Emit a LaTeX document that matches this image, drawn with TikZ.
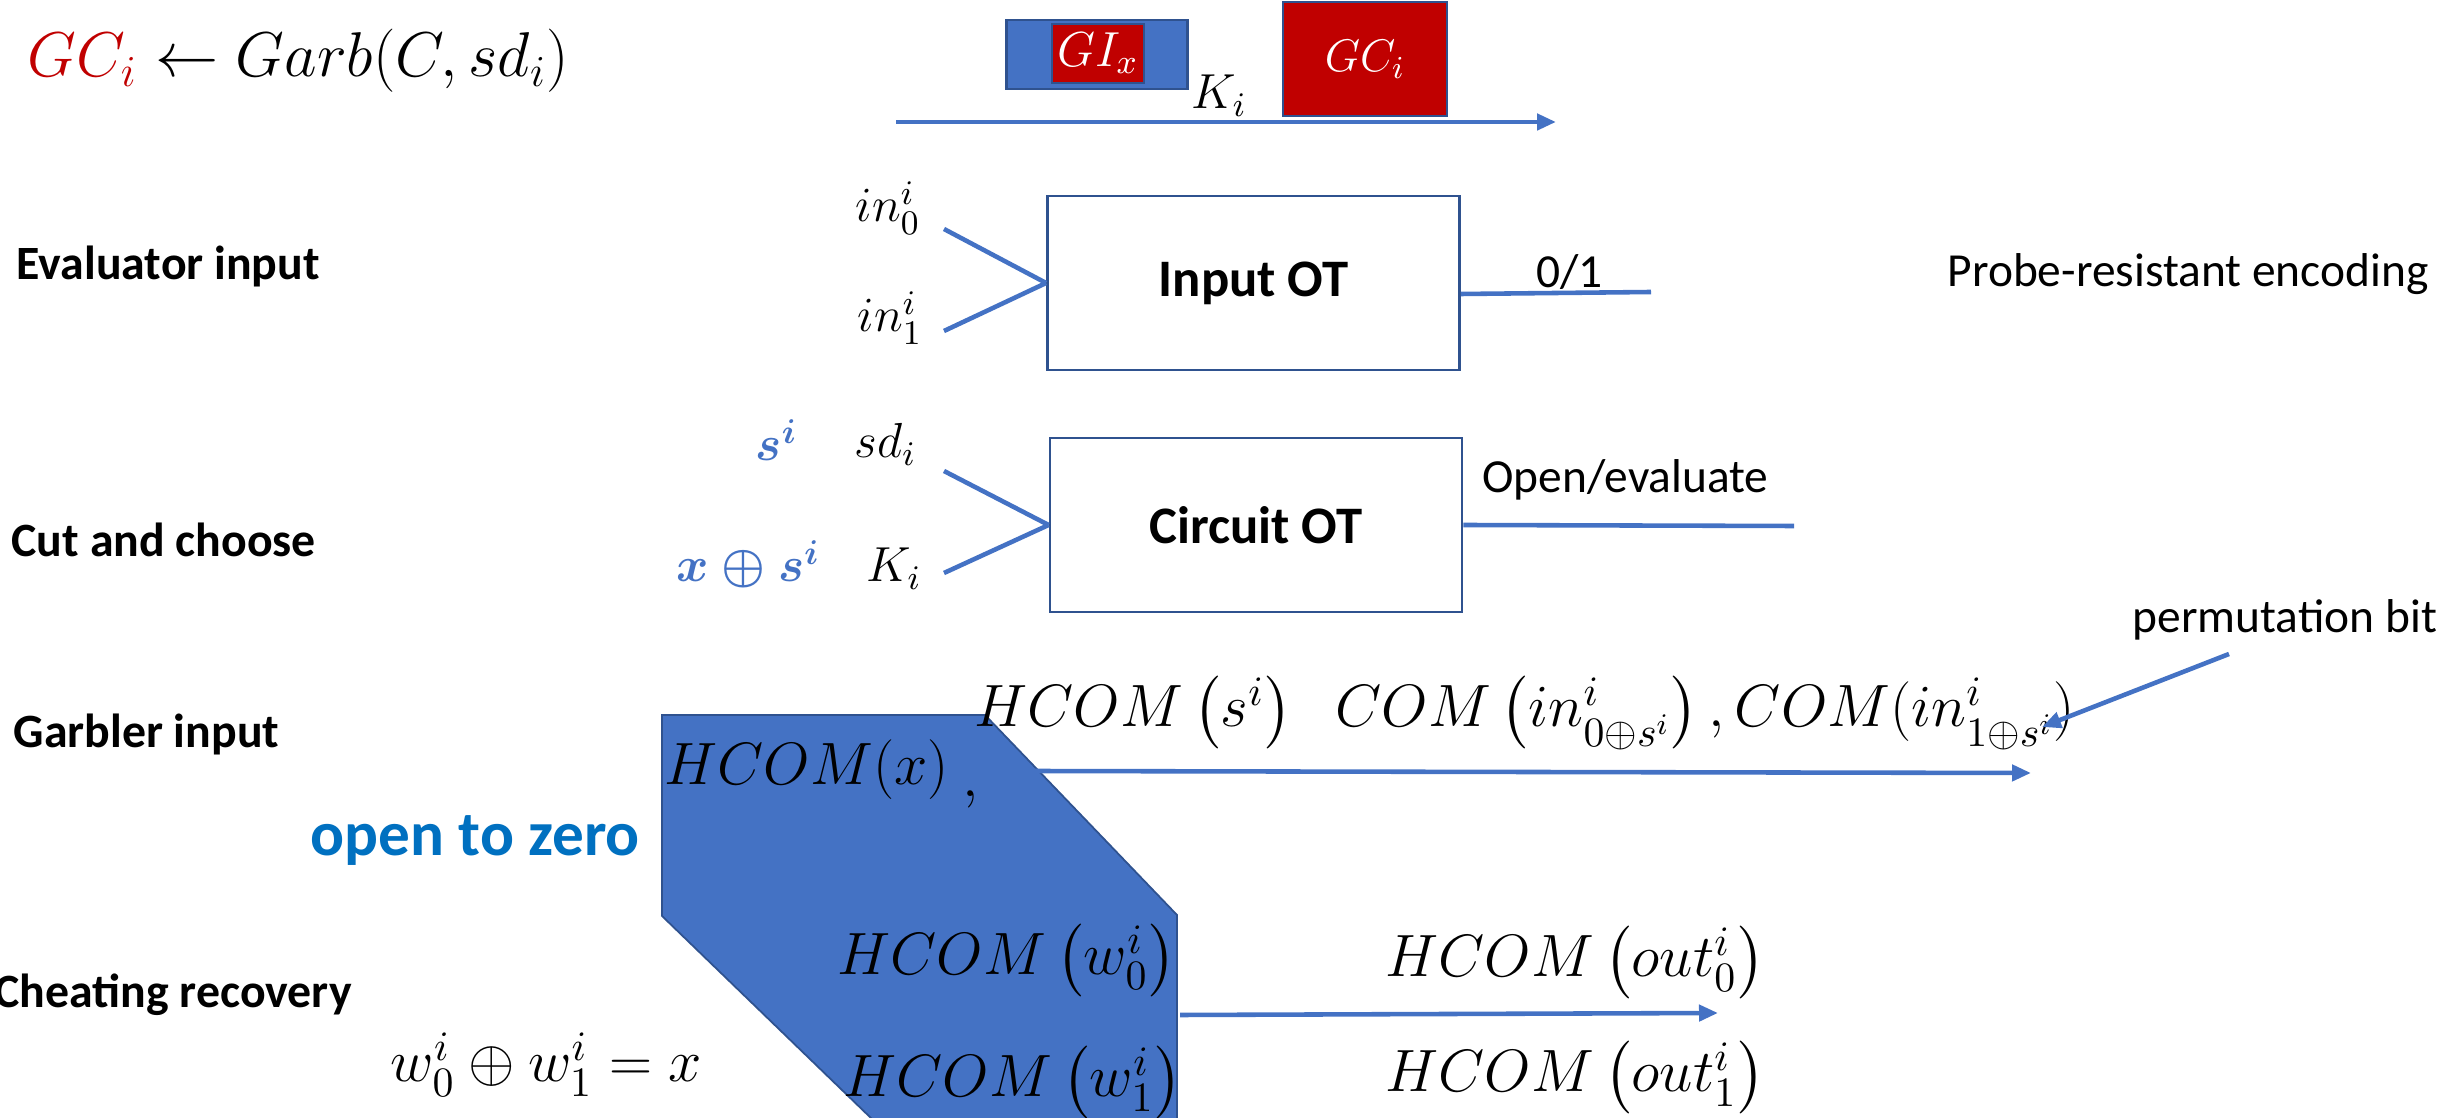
\RequirePackage{fix-cm}
\documentclass[tikz,border=0pt]{standalone}
\usepackage{amsmath}
\usepackage{fontspec}
\setmainfont{Carlito}
\usetikzlibrary{positioning,arrows.meta}

\definecolor{wireblue}{HTML}{4472C4}
\definecolor{edgeblue}{HTML}{2F528F}
\definecolor{gcred}{HTML}{C00000}
\definecolor{zeroblue}{HTML}{0070C0}

\begin{document}
\begin{tikzpicture}[
    every node/.style={inner sep=0pt},
    rowlabel/.style={anchor=base west, font=\fontsize{13.6}{16}\selectfont\bfseries},
    notelabel/.style={anchor=base west, font=\fontsize{13.5}{16}\selectfont},
    otbox/.style={draw=edgeblue, line width=0.8pt, minimum width=4.12cm, minimum height=1.74cm,
        font=\fontsize{15}{18}\selectfont\bfseries},
    wire/.style={draw=wireblue, line width=1.3pt},
    arr/.style={wire, -{Triangle[length=0.19cm,width=0.16cm]}},
    mathsmall/.style={anchor=base west, font=\fontsize{14}{17}\selectfont},
    mathbig/.style={anchor=base west, font=\fontsize{17}{20}\selectfont},
    redbox/.style={fill=gcred, draw=edgeblue, line width=0.6pt, text=white},
]
    \useasboundingbox (0,0) rectangle (24.64,-11.18);

    % Row labels
    \node[rowlabel] (evl) at (0.16,-2.80) {Evaluator input};
    \node[rowlabel] (cac) at (0.11,-5.57) {Cut and choose};
    \node[rowlabel] (gbl) at (0.13,-7.48) {Garbler input};
    \node[rowlabel] (chr) at (-0.06,-10.08) {Cheating recovery};

    % Garbling
    \node[anchor=base west, font=\fontsize{18}{22}\selectfont] (garb) at (0.27,-0.77)
        {$\textcolor{gcred}{GC_i} \leftarrow Garb(C,sd_i)$};
    \node[fill=wireblue, draw=edgeblue, line width=0.6pt, minimum width=1.81cm, minimum height=0.69cm] (gibox) at (10.97,-0.545) {};
    \node[redbox, minimum width=0.92cm, minimum height=0.59cm, font=\fontsize{14}{17}\selectfont] (gix) at (10.98,-0.535) {$GI_x$};
    \node[redbox, minimum width=1.64cm, minimum height=1.14cm, font=\fontsize{13}{16}\selectfont] (gcbox) at (13.65,-0.59) {$GC_i$};
    \coordinate (sendL) at (8.96,-1.22);
    \coordinate (sendR) at (15.56,-1.22);
    \draw[arr] (sendL) -- node[pos=0.49, anchor=base, yshift=0.13cm, font=\fontsize{14}{17}\selectfont] {$K_i$} (sendR);

    % Input OT
    \node[otbox] (iot) at (12.535,-2.83) {Input OT};
    \coordinate (in0) at (9.44,-2.29);
    \coordinate (in1) at (9.44,-3.31);
    \node[mathsmall] (in0lbl) at (8.55,-2.22) {$in_0^i$};
    \node[mathsmall] (in1lbl) at (8.57,-3.32) {$in_1^i$};
    \draw[wire] (in0) -- (iot.west);
    \draw[wire] (in1) -- (iot.west);
    \coordinate (bitend) at (16.51,-2.92);
    \draw[wire] ([yshift=-0.11cm]iot.east) -- node[pos=0.57, anchor=base, yshift=0.05cm, font=\fontsize{13.5}{16}\selectfont] {0/1} (bitend);
    \node[notelabel] (probe) at (19.47,-2.87) {Probe-resistant encoding};

    % Circuit OT
    \node[otbox] (cot) at (12.56,-5.25) {Circuit OT};
    \coordinate (sd) at (9.44,-4.71);
    \coordinate (ki) at (9.44,-5.73);
    \node[mathsmall] (sdlbl) at (8.54,-4.58) {$sd_i$};
    \node[mathsmall] (kilbl) at (8.66,-5.82) {$K_i$};
    \node[mathsmall, text=wireblue] (slbl) at (7.55,-4.61) {$\boldsymbol{s^i}$};
    \node[mathsmall, text=wireblue] (xslbl) at (6.76,-5.82) {$\boldsymbol{x\oplus s^i}$};
    \draw[wire] (sd) -- (cot.west);
    \draw[wire] (ki) -- (cot.west);
    \coordinate (ctend) at (17.94,-5.26);
    \draw[wire] (cot.east) -- node[pos=0.49, anchor=base, yshift=0.33cm, font=\fontsize{13.5}{16}\selectfont] {Open/evaluate} (ctend);

    % Garbler input
    \filldraw[fill=wireblue, draw=edgeblue, line width=0.5pt]
        (6.62,-7.15) -- (9.85,-7.15) -- (11.77,-9.15) -- (11.77,-11.5) -- (9.04,-11.5) -- (6.62,-9.16) -- cycle;
    \node[mathbig] (hx) at (6.64,-7.85) {$HCOM(x)$};
    \node[mathbig] (comma) at (9.62,-7.97) {$,$};
    \node[mathbig] (hs) at (9.74,-7.27)
        {$HCOM\left(s^i\right)\;\; COM\left(in^i_{0\oplus s^i}\right),COM(in^i_{1\oplus s^i})$};
    \coordinate (gstart) at (10.31,-7.71);
    \coordinate (gend) at (20.31,-7.73);
    \draw[arr] (gstart) -- (gend);
    \node[notelabel] (perm) at (21.32,-6.33) {permutation bit};
    \coordinate (ptail) at (22.29,-6.54);
    \coordinate (phead) at (20.42,-7.27);
    \draw[arr] (ptail) -- (phead);
    \node[anchor=base west, text=zeroblue, font=\fontsize{18}{22}\selectfont\bfseries] (otz) at (3.10,-8.56) {open to zero};

    % Cheating recovery
    \node[mathbig] (hw0) at (8.37,-9.75) {$HCOM\left(w^i_0\right)$};
    \node[mathbig] (hw1) at (8.43,-10.97) {$HCOM\left(w^i_1\right)$};
    \node[mathbig] (ho0) at (13.85,-9.77) {$HCOM\left(out^i_0\right)$};
    \node[mathbig] (ho1) at (13.85,-10.92) {$HCOM\left(out^i_1\right)$};
    \node[mathbig] (wx) at (3.90,-10.82) {$w^i_0 \oplus w^i_1 = x$};
    \coordinate (cstart) at (11.80,-10.15);
    \coordinate (cend) at (17.18,-10.13);
    \draw[arr] (cstart) -- (cend);
\end{tikzpicture}
\end{document}
